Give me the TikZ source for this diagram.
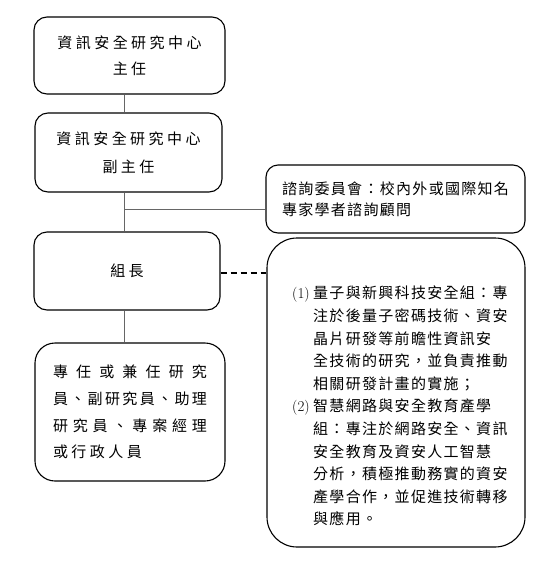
\documentclass[tikz,border=0pt]{standalone}
\usepackage{fontspec}
\newfontfamily\cjkR[LetterSpace=8.7]{Noto Sans CJK TC}
\newfontfamily\cjkL[LetterSpace=23]{Noto Sans CJK TC}
\newfontfamily\cjkM[LetterSpace=23]{Noto Sans CJK TC}
\newfontfamily\cjkP{Noto Sans CJK TC}
\def\spreadline#1#2{\makebox[#1][s]{\spreadaux#2\relax\relax}}
\def\spreadaux#1#2{#1\ifx#2\relax\else\hfill\expandafter\spreadaux\expandafter#2\fi}
\tikzset{
  orgbox/.style={draw, line width=1.1pt, rounded corners=13pt, inner sep=0pt, align=center},
  conn/.style={draw=black!60, line width=0.7pt},
  dashconn/.style={draw, line width=1.6pt, dash pattern=on 6pt off 4pt},
}
\begin{document}
\begin{tikzpicture}[x=1pt,y=1pt]
\useasboundingbox (0,0) rectangle (548,-568);
% boxes
\node[orgbox, minimum width=191pt, minimum height=77pt,
      font={\fontsize{15}{26}\cjkL}] (b1) at (129.5,-55.5)
  {資訊安全研究中心\\主任};
\node[orgbox, minimum width=187pt, minimum height=79pt,
      font={\fontsize{15}{28}\cjkL}] (b2) at (128.5,-152.5)
  {資訊安全研究中心\\副主任};
\node[orgbox, minimum width=186pt, minimum height=78pt,
      font={\fontsize{15}{26}\cjkL}] (b3) at (127,-271)
  {組長};
\node[orgbox, rounded corners=20pt, minimum width=190pt, minimum height=138pt,
      align=left, font={\fontsize{15}{26.7}\cjkP}] (b4) at (130,-412)
  {\spreadline{154pt}{專任或兼任研究}\\
   \spreadline{154pt}{員、副研究員、助理}\\
   \spreadline{154pt}{研究員、專案經理}\\
   {\cjkM 或行政人員}};
\node[orgbox, rounded corners=12pt, minimum width=259pt, minimum height=68pt,
      align=left, font={\fontsize{15}{21}\cjkR}] (cm) at (395.5,-199)
  {諮詢委員會：校內外或國際知名\\專家學者諮詢顧問};
\node[orgbox, rounded corners=30pt, minimum width=258pt, minimum height=309pt] (big) at (396,-392.5) {};
\node[inner sep=0pt, anchor=north west, align=left,
      font={\fontsize{15}{22.6}\cjkR}] (bigtxt) at (292,-286)
  {\makebox[21pt][l]{\normalfont(1)}量子與新興科技安全組：專\\
   \hspace*{21pt}注於後量子密碼技術、資安\\
   \hspace*{21pt}晶片研發等前瞻性資訊安\\
   \hspace*{21pt}全技術的研究，並負責推動\\
   \hspace*{21pt}相關研發計畫的實施；\\
   \makebox[21pt][l]{\normalfont(2)}智慧網路與安全教育產學\\
   \hspace*{21pt}組：專注於網路安全、資訊\\
   \hspace*{21pt}安全教育及資安人工智慧\\
   \hspace*{21pt}分析，積極推動務實的資安\\
   \hspace*{21pt}產學合作，並促進技術轉移\\
   \hspace*{21pt}與應用。};
% connectors
\coordinate (vx) at (124,0);
\coordinate (br) at (124,-209);
\draw[conn] (b1.south -| vx) -- (b2.north -| vx);
\draw[conn] (b2.south -| vx) -- (b3.north -| vx);
\draw[conn] (b3.south -| vx) -- (b4.north -| vx);
\draw[conn] (br) -- (br -| cm.west);
\draw[dashconn] ([yshift=-2pt]b3.east) -- ([yshift=-2pt]b3.east -| big.west);
\end{tikzpicture}
\end{document}
